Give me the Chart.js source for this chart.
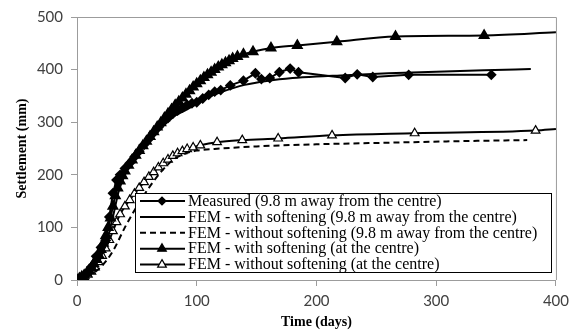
<!DOCTYPE html>
<html>
<head>
<meta charset="utf-8">
<script src="https://cdn.jsdelivr.net/npm/chart.js"></script>
<style>
  html, body { margin: 0; padding: 0; background: #fff; }
  #wrap { width: 575px; height: 336px; position: relative; }
</style>
</head>
<body>
<div id="wrap"><canvas id="chart" width="575" height="336"></canvas></div>
<script>
// Time (days) and settlement (mm)
const measT = [0,4,8,12,16,20,24,27,30,33,36,40,44,48,52,56,60,64,68,72,76,80,84,88,92,96,100,105,110,115,120,128,139,149,154,161,169,178,185,224,234,247,277,346];
const measS = [0,5,12,25,45,62,75,120,165,190,200,212,222,234,245,257,268,280,290,300,308,316,322,328,333,336,338,345,352,358,361,370,379,393,382,384,395,402,395,384,391,386,390,390];

const softT = [0,10,20,25,30,35,40,50,60,70,80,90,100,110,120,140,160,180,200,220,260,300,340,379];
const softS = [0,15,45,75,120,170,200,238,268,292,310,322,335,348,357,371,379,384,387,389,393,396,399,401];

const noSoftT = [0,10,20,30,40,50,60,70,80,90,100,120,150,200,260,320,376];
const noSoftS = [0,8,25,55,100,140,175,205,228,240,246,250,254,258,261,264,266];

const centreSoftT = [0,2,4,6,8,10,12,14,16,18,20,22,24,26,28,30,32,34,36,38,40,43,46,49,52,55,58,61,64,67,70,73,76,79,82,85,88,91,94,97,100,103,106,109,112,115,118,121,124,127,130,134,139,147,162,184,217,266,340,400];
const centreSoftS = [0,3,6,9,13,18,24,31,39,48,58,70,84,100,118,140,160,175,188,198,207,218,228,237,246,255,264,273,282,291,299,308,316,324,332,339,346,353,360,367,373,379,385,390,395,400,405,409,413,417,421,425,429,434,441,446,453,463,465,471];

const centreNoSoftT = [0,3,6,9,12,15,18,21,24,27,30,33,36,40,44,48,52,56,60,64,68,72,76,80,84,88,92,97,103,117,138,168,213,282,383,400];
const centreNoSoftS = [0,3,6,10,16,24,34,46,60,76,93,110,125,140,152,164,175,186,196,205,214,222,229,236,241,245,249,252,256,262,266,269,275,279,284,287];

const labels = [
    'Measured (9.8 m away from the centre)',
    'FEM - with softening (9.8 m away from the centre)',
    'FEM - without softening (9.8 m away from the centre)',
    'FEM - with softening (at the centre)',
    'FEM - without softening (at the centre)'
];

function pts(t, s) {
    return t.map((x, i) => ({x: x, y: s[i]}));
}
// no marker on the last point of the two centre curves (line runs to the border)
function radii(n, r) {
    return Array.from({length: n}, (_, i) => i === n - 1 ? 0 : r);
}

const legendBox = {
    id: 'legendBox',
    afterDraw(chart) {
        const ctx = chart.ctx;
        const area = chart.chartArea;
        ctx.save();
        // plot area frame (top / right)
        ctx.strokeStyle = '#9c9c9c';
        ctx.lineWidth = 1;
        ctx.beginPath();
        ctx.moveTo(area.left, area.top + 0.5);
        ctx.lineTo(area.right + 0.5, area.top + 0.5);
        ctx.lineTo(area.right + 0.5, area.bottom);
        ctx.stroke();

        const x0 = 135, y0 = 193, w = 416, h = 79, rowH = 15.9;
        ctx.fillStyle = '#fff';
        ctx.fillRect(x0, y0, w, h);
        ctx.strokeStyle = '#000';
        ctx.lineWidth = 1;
        ctx.strokeRect(x0 + 0.5, y0 + 0.5, w, h);

        ctx.font = '16px "Liberation Serif"';
        ctx.textBaseline = 'middle';
        chart.data.datasets.forEach((ds, i) => {
            const y = y0 + 8 + i * rowH;
            ctx.strokeStyle = '#000';
            ctx.lineWidth = 2;
            ctx.setLineDash(ds.borderDash || []);
            ctx.beginPath();
            ctx.moveTo(140, y);
            ctx.lineTo(185, y);
            ctx.stroke();
            ctx.setLineDash([]);
            if (ds.pointStyle) {
                ctx.fillStyle = ds.pointBackgroundColor;
                ctx.strokeStyle = '#000';
                ctx.lineWidth = 1.2;
                Chart.helpers.drawPoint(ctx, {
                    pointStyle: ds.pointStyle,
                    radius: ds.legendRadius,
                    borderWidth: 1.2,
                    rotation: 0
                }, 162, y);
            }
            ctx.fillStyle = '#000';
            ctx.fillText(ds.label, 188, y + 0.5);
        });
        ctx.restore();
    }
};

new Chart(document.getElementById('chart'), {
    type: 'line',
    data: {
        datasets: [
            {
                label: labels[0],
                data: pts(measT, measS),
                borderColor: '#000',
                borderWidth: 2,
                pointStyle: 'rectRot',
                pointRadius: 4,
                legendRadius: 4,
                pointBackgroundColor: '#000',
                pointBorderColor: '#000',
                tension: 0
            },
            {
                label: labels[1],
                data: pts(softT, softS),
                borderColor: '#000',
                borderWidth: 2,
                pointRadius: 0,
                pointStyle: false,
                cubicInterpolationMode: 'monotone'
            },
            {
                label: labels[2],
                data: pts(noSoftT, noSoftS),
                borderColor: '#000',
                borderWidth: 2,
                borderDash: [6, 4],
                pointRadius: 0,
                pointStyle: false,
                cubicInterpolationMode: 'monotone'
            },
            {
                label: labels[3],
                data: pts(centreSoftT, centreSoftS),
                borderColor: '#000',
                borderWidth: 2,
                pointStyle: 'triangle',
                pointRadius: radii(centreSoftT.length, 5),
                legendRadius: 5,
                pointBackgroundColor: '#000',
                pointBorderColor: '#000',
                cubicInterpolationMode: 'monotone'
            },
            {
                label: labels[4],
                data: pts(centreNoSoftT, centreNoSoftS),
                borderColor: '#000',
                borderWidth: 2,
                pointStyle: 'triangle',
                pointRadius: radii(centreNoSoftT.length, 5),
                legendRadius: 5,
                pointBackgroundColor: '#fff',
                pointBorderColor: '#000',
                pointBorderWidth: 1.2,
                cubicInterpolationMode: 'monotone'
            }
        ]
    },
    options: {
        responsive: false,
        animation: false,
        devicePixelRatio: 1,
        layout: { padding: { left: 0, top: 16, right: 19, bottom: 0 } },
        plugins: {
            legend: { display: false },
            tooltip: { enabled: false }
        },
        scales: {
            x: {
                type: 'linear',
                min: 0,
                max: 400,
                afterFit: (s) => { s.height = 56; },
                ticks: {
                    stepSize: 100,
                    padding: 6,
                    color: '#404040',
                    font: { family: 'Lato', size: 15 }
                },
                grid: { drawOnChartArea: false, tickLength: 6, color: '#9c9c9c' },
                border: { color: '#9c9c9c' },
                title: {
                    display: true,
                    text: 'Time (days)',
                    color: '#000',
                    font: { family: 'Liberation Serif', size: 14, weight: 'bold' },
                    padding: { top: 0, bottom: 5.6 }
                }
            },
            y: {
                min: 0,
                max: 500,
                afterFit: (s) => { s.width = 77; },
                ticks: {
                    stepSize: 100,
                    padding: 8,
                    color: '#404040',
                    font: { family: 'Lato', size: 15 }
                },
                grid: { drawOnChartArea: false, tickLength: 6, color: '#9c9c9c' },
                border: { color: '#9c9c9c' },
                title: {
                    display: true,
                    text: 'Settlement (mm)',
                    color: '#000',
                    font: { family: 'Liberation Serif', size: 14, weight: 'bold' },
                    padding: { top: 13.6, bottom: 0 }
                }
            }
        }
    },
    plugins: [legendBox]
});
</script>
</body>
</html>
